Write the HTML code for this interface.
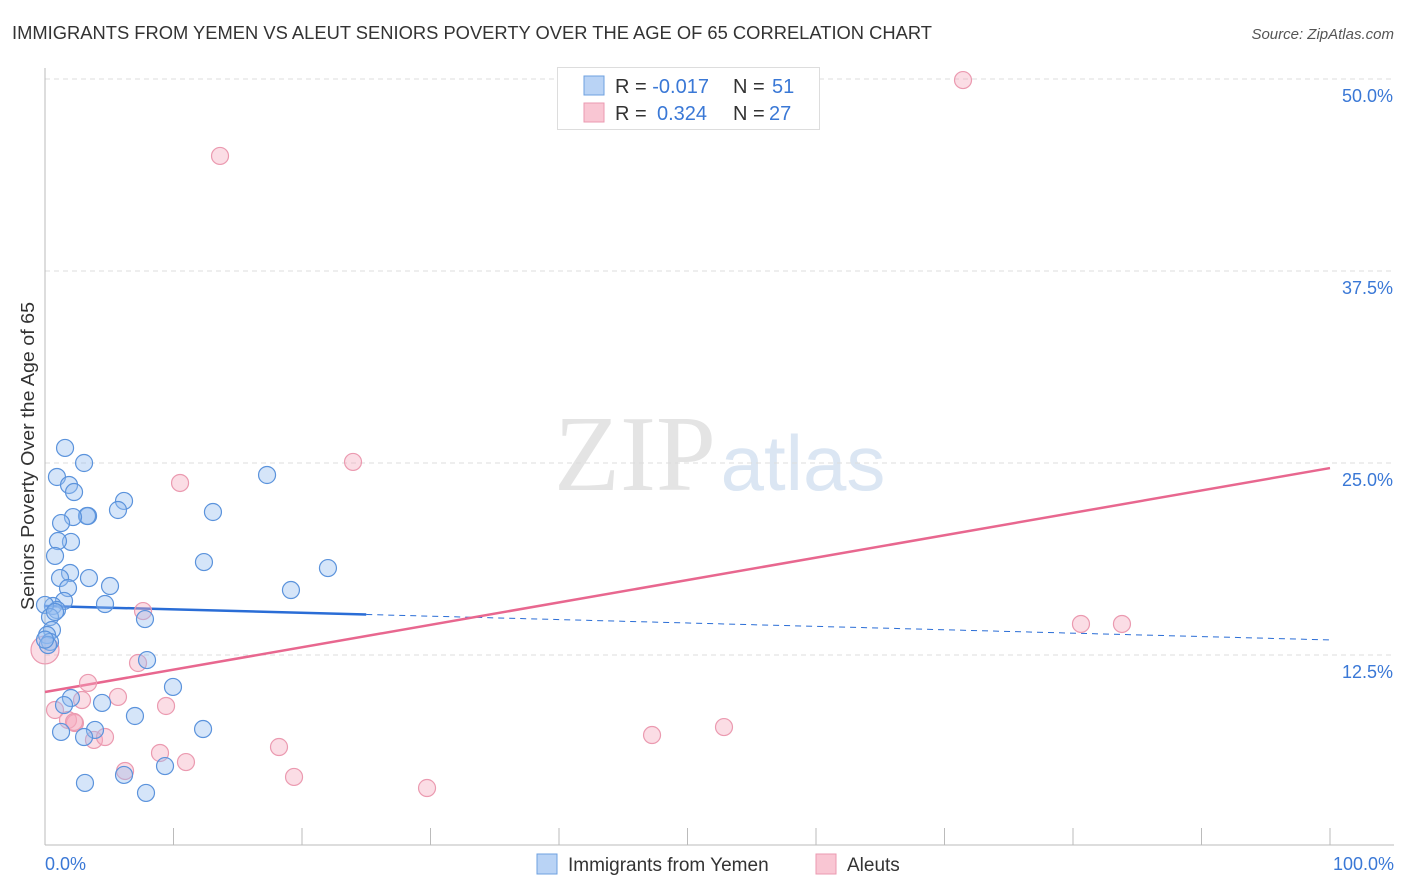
<!DOCTYPE html>
<html><head><meta charset="utf-8"><style>
body{margin:0;background:#fff;font-family:"Liberation Sans",sans-serif;}
svg{display:block}
</style></head><body>
<svg id="chart" width="1406" height="892">
<text x="12" y="39" font-size="18" fill="#333" textLength="920" lengthAdjust="spacingAndGlyphs">IMMIGRANTS FROM YEMEN VS ALEUT SENIORS POVERTY OVER THE AGE OF 65 CORRELATION CHART</text>
<text x="1394" y="39" font-size="15" fill="#555" font-style="italic" text-anchor="end">Source: ZipAtlas.com</text>
<text x="34" y="456" font-size="18" fill="#333" text-anchor="middle" textLength="308" lengthAdjust="spacingAndGlyphs" transform="rotate(-90 34 456)">Seniors Poverty Over the Age of 65</text>
<g><text x="635" y="490" font-size="108" font-family="Liberation Serif,serif" fill="#e4e4e4" text-anchor="middle">ZIP</text><text x="803" y="490" font-size="78" fill="#dbe6f3" text-anchor="middle">atlas</text></g>
<g id="grid"></g>
<line x1="45" y1="68" x2="45" y2="845" stroke="#bbb"/>
<line x1="45" y1="845" x2="1394" y2="845" stroke="#bbb"/>
<g id="xticks"></g>
<g id="trends"></g>
<g id="points"></g>
<text x="45" y="870" font-size="18" fill="#3a78d6">0.0%</text>
<text x="1394" y="870" font-size="18" fill="#3a78d6" text-anchor="end">100.0%</text>
<g>
<rect x="557.5" y="67.5" width="262" height="62" fill="#fff" stroke="#ddd"/>
<rect x="584" y="76" width="20" height="19" fill="#b9d3f5" stroke="#6ea0e0"/>
<rect x="584" y="103" width="20" height="19" fill="#f9c6d3" stroke="#eb9ab0"/>
<text x="615" y="93" font-size="20" fill="#333">R = <tspan fill="#3a78d6">-0.017</tspan><tspan x="733">N = </tspan><tspan fill="#3a78d6" x="772">51</tspan></text>
<text x="615" y="120" font-size="20" fill="#333">R = <tspan fill="#3a78d6" x="657">0.324</tspan><tspan x="733">N = </tspan><tspan fill="#3a78d6" x="769">27</tspan></text>
</g>
<g>
<rect x="537" y="854" width="20" height="20" fill="#b9d3f5" stroke="#6ea0e0"/>
<text x="568" y="871" font-size="19" fill="#333">Immigrants from Yemen</text>
<rect x="816" y="854" width="20" height="20" fill="#f9c6d3" stroke="#eb9ab0"/>
<text x="847" y="871" font-size="19" fill="#333">Aleuts</text>
</g>
</svg>
<script>
const yTicks=[12.5,25,37.5,50];
const yTickLabels=["12.5%","25.0%","37.5%","50.0%"];
const blueX=[1.56,3.04,0.93,1.87,2.26,6.15,5.68,3.35,3.27,2.18,1.25,13.07,17.28,2.02,1.01,0.78,12.37,22.02,1.95,3.42,1.17,5.06,1.79,19.14,1.48,4.67,0.62,0.93,0.0,0.39,7.78,0.54,0.16,0.39,7.94,9.96,2.02,4.44,1.48,3.89,1.25,3.04,7.0,12.3,9.34,6.15,3.11,7.86,0.23,0.78,0.0];
const blueY=[25.98,25.0,24.09,23.57,23.11,22.53,21.94,21.55,21.55,21.48,21.09,21.81,24.22,19.86,19.92,18.95,18.55,18.16,17.84,17.51,17.51,16.99,16.86,16.73,16.02,15.82,15.69,15.43,15.76,14.97,14.84,14.13,13.8,13.35,12.17,10.42,9.70,9.38,9.24,7.62,7.49,7.16,8.53,7.68,5.27,4.69,4.17,3.52,13.15,15.3,13.5];
const pinkX=[71.44,13.62,23.97,10.51,7.63,80.62,83.81,7.24,3.35,5.68,2.88,9.42,0.78,1.79,2.33,3.81,4.67,8.95,10.97,6.23,18.21,19.38,29.73,47.24,52.84,0,2.26];
const pinkY=[49.93,44.99,25.07,23.70,15.36,14.52,14.52,11.98,10.68,9.77,9.57,9.18,8.92,8.27,8.07,6.97,7.16,6.12,5.53,4.95,6.51,4.56,3.84,7.29,7.81,12.83,8.14];
const blueTrend=[15.69,13.48];
const pinkTrend=[10.09,24.67];
const NS="http://www.w3.org/2000/svg";
const sx=v=>45+v*12.85, sy=v=>847-v*15.36;
function mk(t,a,p){const e=document.createElementNS(NS,t);for(const k in a)e.setAttribute(k,a[k]);p.appendChild(e);return e;}
const grid=document.getElementById('grid');
yTicks.forEach((t,i)=>{
 const l=mk('line',{x1:45,x2:1394,y1:sy(t),y2:sy(t),stroke:'#ddd','stroke-dasharray':'5,4'},grid);
 
 
 const tx=mk('text',{x:1393,y:sy(t)+23,'font-size':18,fill:'#3a78d6','text-anchor':'end'},grid);
 tx.textContent=yTickLabels[i];
 
 
});
const xt=document.getElementById('xticks');
for(let i=1;i<=10;i++){
 const l=mk('line',{x1:sx(i*10),x2:sx(i*10),y1:828,y2:845,stroke:'#bbb'},xt);
 
 
}
const tr=document.getElementById('trends');
let b1=blueTrend[0]+(blueTrend[1]-blueTrend[0])*0.25;
let l1=mk('line',{x1:sx(0),y1:sy(blueTrend[0]),x2:sx(25),y2:sy(b1),stroke:'#2a6dd6','stroke-width':2.5},tr);


let l2=mk('line',{x1:sx(25),y1:sy(b1),x2:sx(100),y2:sy(blueTrend[1]),stroke:'#2a6dd6','stroke-width':1,'stroke-dasharray':'6,5'},tr);


let l3=mk('line',{x1:sx(0),y1:sy(pinkTrend[0]),x2:sx(100),y2:sy(pinkTrend[1]),stroke:'#e8678f','stroke-width':2.5},tr);


const pg=document.getElementById('points');
pinkX.forEach((x,i)=>{
 const c=mk('circle',{cx:sx(x),cy:sy(pinkY[i]),r:i==25?14:8.5,fill:'rgba(246,170,190,0.4)',stroke:'#eb9ab0','stroke-width':1.2},pg);
 
 
});
blueX.forEach((x,i)=>{
 const c=mk('circle',{cx:sx(x),cy:sy(blueY[i]),r:8.5,fill:'rgba(150,190,240,0.4)',stroke:'#5b93dc','stroke-width':1.2},pg);
 
 
});
</script>
</body></html>
